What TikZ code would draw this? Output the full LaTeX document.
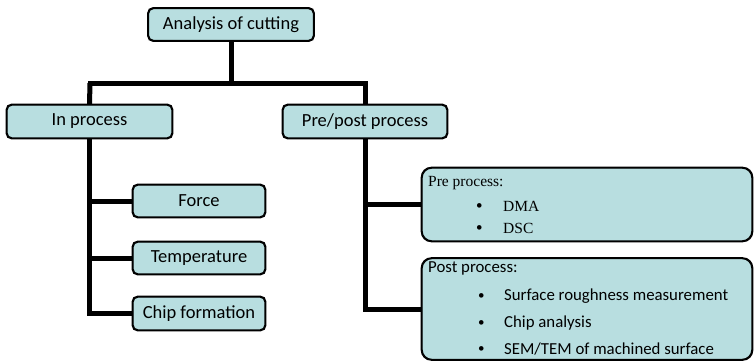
\documentclass[tikz,border=0pt]{standalone}
\usepackage{fontspec}
\setmainfont{Carlito}
\newfontfamily\seriffont{Liberation Serif}
\definecolor{boxfill}{RGB}{184,222,224}
\begin{document}
\begin{tikzpicture}[x=1pt,y=-1pt,
  box/.style={draw=black, line width=1.3pt, fill=boxfill, rounded corners=5pt, inner sep=0pt, font=\fontsize{18.5}{22}\selectfont},
  bigbox/.style={draw=black, line width=1.3pt, fill=boxfill, rounded corners=10pt, inner sep=0pt},
  conn/.style={line width=5pt},
  txt/.style={anchor=west, inner sep=0pt, font=\fontsize{16.8}{20}\selectfont},
  stxt/.style={anchor=west, inner sep=0pt, font=\seriffont\fontsize{15.5}{18}\selectfont},
  sbul/.style={anchor=west, inner sep=0pt, font=\fontsize{13}{15}\selectfont},
]
\useasboundingbox (0,0) rectangle (754,361);
\coordinate (bar) at (231,83);
\coordinate (barL) at (90,83);
\coordinate (barR) at (365,83);

\node[box, minimum width=165pt, minimum height=32pt] (top) at (231,24.5) {Analysis of cutting};
\node[box, minimum width=165pt, minimum height=33pt] (inp) at (89.5,121.5) {In process};
\node[box, minimum width=164pt, minimum height=33pt] (pp) at (365,121.5) {Pre/post process};
\node[box, minimum width=132pt, minimum height=32pt] (force) at (199,201) {Force};
\node[box, minimum width=132pt, minimum height=32pt] (temp) at (199,258) {Temperature};
\node[box, minimum width=132pt, minimum height=33pt] (chip) at (199,313.5) {Chip formation};
\node[bigbox, minimum width=330pt, minimum height=73pt] (pre) at (587,204.5) {};
\node[bigbox, minimum width=330pt, minimum height=101pt] (post) at (587,309) {};

\draw[conn] (top.south) -- (bar);
\draw[conn, line cap=rect] (barL) -- (barR);
\draw[conn] (barL) -- (inp.north);
\draw[conn] (barR) -- (pp.north);
\draw[conn] (inp.south) |- (chip.west);
\draw[conn] (inp.south |- force.west) -- (force.west);
\draw[conn] (inp.south |- temp.west) -- (temp.west);
\draw[conn] (pp.south) |- (post.west);
\draw[conn] (pp.south |- pre.west) -- (pre.west);

\foreach \n in {top,inp,pp,force,temp,chip}{\draw[line width=1.3pt, rounded corners=5pt] (\n.north west) rectangle (\n.south east);}
\foreach \n in {pre,post}{\draw[line width=1.3pt, rounded corners=10pt] (\n.north west) rectangle (\n.south east);}

\node[stxt] (pret) at (428,183) {Pre process:};
\node[sbul] (preb1) at (476,207) {•};
\node[stxt] (pre1) at (503,206) {DMA};
\node[sbul] (preb2) at (476,229) {•};
\node[stxt] (pre2) at (503,228) {DSC};

\node[txt] (postt) at (428,268) {Post process:};
\node[sbul] (postb1) at (478,297) {•};
\node[txt] (post1) at (504,296) {Surface roughness measurement};
\node[sbul] (postb2) at (478,324) {•};
\node[txt] (post2) at (504,323) {Chip analysis};
\node[sbul] (postb3) at (478,350) {•};
\node[txt] (post3) at (504,349) {SEM/TEM of machined surface};
\end{tikzpicture}
\end{document}
